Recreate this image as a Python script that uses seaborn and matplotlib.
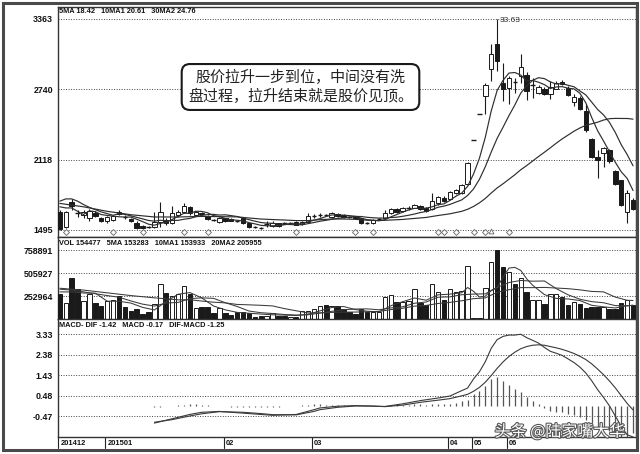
import matplotlib
matplotlib.use("Agg")
import matplotlib.pyplot as plt
import matplotlib.transforms as mtransforms
import matplotlib.patheffects as pe
from matplotlib.patches import Rectangle
import seaborn as sns

# ---------------- data ----------------
opens = [16.54, 15.22, 17.42, 16.45, 16.27, 16.00, 16.45, 16.00, 15.74, 15.83,
         16.54, 16.10, 15.92, 15.57, 15.30, 15.22, 15.22, 15.66, 15.83, 15.57,
         16.27, 16.54, 16.98, 16.27, 16.45, 16.19, 15.85, 15.66, 16.00, 15.92,
         15.75, 16.00, 15.57, 15.22, 15.13, 15.48, 15.30, 15.57, 15.57, 15.55,
         15.66, 15.48, 15.66, 16.19, 16.27, 16.30, 16.10, 16.36, 16.27, 16.10,
         16.10, 16.00, 15.57, 15.57, 15.90, 16.00, 16.45, 16.80, 16.63, 16.90,
         16.90, 17.07, 16.89, 16.80, 17.33, 17.77, 17.68, 18.21, 18.21, 19.01,
         22.95, 25.25, 26.85, 29.22, 31.43, 27.99, 27.55, 28.08, 28.61, 28.70,
         27.73, 27.11, 27.46, 27.02, 27.46, 28.08, 27.55, 26.32, 26.67, 25.52,
         22.97, 21.38, 21.74, 22.00, 20.15, 19.36, 16.54, 17.59]
highs = [16.71, 16.60, 17.68, 16.71, 16.71, 16.80, 16.60, 16.10, 16.20, 16.30,
         16.71, 16.30, 16.00, 15.70, 15.40, 15.30, 16.54, 17.42, 16.00, 17.07,
         16.70, 17.33, 17.10, 16.60, 16.50, 16.30, 15.90, 16.10, 16.05, 16.00,
         15.85, 16.05, 15.60, 15.30, 15.20, 15.75, 15.70, 15.60, 15.65, 15.65,
         15.70, 15.75, 16.45, 16.36, 16.45, 16.40, 16.50, 16.45, 16.35, 16.20,
         16.15, 16.05, 15.65, 15.90, 16.00, 16.71, 16.90, 16.90, 16.95, 17.10,
         17.25, 17.15, 16.95, 18.21, 18.00, 17.95, 18.40, 18.60, 19.00, 20.95,
         22.95, 25.25, 28.00, 31.43, 33.63, 29.75, 28.60, 28.43, 30.55, 28.90,
         28.43, 27.80, 27.60, 28.17, 28.10, 28.20, 27.70, 27.02, 26.80, 26.14,
         23.10, 22.00, 22.27, 22.10, 20.30, 19.40, 18.48, 17.80]
lows = [14.95, 15.10, 16.71, 16.10, 16.00, 15.75, 16.10, 15.65, 15.60, 15.70,
        16.27, 15.90, 15.65, 15.05, 15.05, 15.10, 15.13, 15.22, 15.40, 15.48,
        16.10, 16.45, 16.30, 16.20, 16.30, 15.85, 15.75, 15.60, 15.65, 15.70,
        15.65, 15.50, 15.15, 15.15, 15.05, 15.22, 15.20, 15.25, 15.45, 15.45,
        15.35, 15.40, 15.57, 16.00, 16.10, 16.15, 16.00, 16.10, 16.05, 16.00,
        15.95, 15.50, 15.45, 15.50, 15.85, 15.92, 16.40, 16.45, 16.55, 16.70,
        16.85, 16.75, 16.55, 16.71, 17.20, 17.40, 17.60, 18.10, 18.10, 18.90,
        22.95, 25.25, 25.25, 28.17, 29.05, 26.41, 26.14, 27.11, 27.99, 26.50,
        26.67, 27.00, 26.90, 26.58, 27.40, 27.80, 26.80, 25.96, 25.60, 23.59,
        21.30, 19.53, 20.50, 20.90, 18.90, 17.07, 15.57, 16.70]
closes = [15.04, 16.54, 17.07, 16.43, 16.54, 16.63, 16.19, 15.74, 16.10, 16.19,
          16.36, 16.08, 15.74, 15.13, 15.13, 15.20, 15.66, 16.54, 15.57, 16.45,
          16.54, 17.07, 16.45, 16.54, 16.36, 15.92, 15.83, 16.00, 15.74, 15.74,
          15.72, 15.57, 15.22, 15.20, 15.11, 15.50, 15.57, 15.30, 15.55, 15.57,
          15.40, 15.66, 16.19, 16.21, 16.29, 16.28, 16.45, 16.19, 16.10, 16.08,
          16.00, 15.57, 15.55, 15.83, 15.92, 16.45, 16.80, 16.54, 16.89, 16.92,
          17.16, 16.80, 16.63, 17.51, 17.86, 17.51, 18.30, 18.48, 18.92, 20.86,
          22.95, 25.25, 27.82, 30.55, 29.93, 27.46, 28.43, 28.06, 29.40, 27.29,
          27.75, 27.64, 27.02, 27.64, 27.99, 27.90, 26.93, 26.76, 25.70, 23.76,
          21.38, 21.12, 22.18, 21.03, 19.00, 17.16, 18.21, 16.80]

ma5 = [17.0, 16.9, 16.9, 16.6, 16.32, 16.64, 16.57, 16.31, 16.24, 16.17,
       16.12, 16.09, 16.09, 15.90, 15.69, 15.46, 15.37, 15.53, 15.62, 15.88,
       16.15, 16.43, 16.42, 16.61, 16.59, 16.47, 16.22, 16.13, 15.97, 15.85,
       15.81, 15.75, 15.60, 15.49, 15.36, 15.32, 15.32, 15.34, 15.41, 15.50,
       15.48, 15.50, 15.67, 15.81, 15.95, 16.13, 16.28, 16.28, 16.26, 16.22,
       16.16, 15.99, 15.86, 15.81, 15.77, 15.86, 16.11, 16.31, 16.52, 16.72,
       16.86, 16.86, 16.88, 17.00, 17.19, 17.26, 17.56, 17.93, 18.21, 18.81,
       19.90, 21.29, 23.16, 25.49, 27.30, 28.20, 28.84, 28.89, 28.66, 28.13,
       28.19, 28.03, 27.82, 27.47, 27.61, 27.64, 27.50, 27.44, 27.06, 26.21,
       24.91, 23.74, 22.83, 21.89, 20.94, 20.10, 19.52, 18.44]
ma10 = [17.5, 17.7, 17.7, 17.5, 17.2, 16.95, 16.75, 16.55, 16.4, 16.25,
        16.38, 16.33, 16.20, 16.07, 15.93, 15.79, 15.73, 15.81, 15.76, 15.79,
        15.80, 15.90, 15.97, 16.12, 16.24, 16.31, 16.33, 16.27, 16.29, 16.22,
        16.14, 15.99, 15.86, 15.73, 15.61, 15.56, 15.54, 15.47, 15.45, 15.43,
        15.40, 15.41, 15.51, 15.61, 15.72, 15.80, 15.89, 15.98, 16.03, 16.09,
        16.15, 16.14, 16.07, 16.03, 16.00, 16.01, 16.05, 16.08, 16.16, 16.25,
        16.36, 16.49, 16.59, 16.76, 16.96, 17.06, 17.21, 17.41, 17.61, 18.00,
        18.58, 19.43, 20.55, 21.85, 23.06, 24.05, 25.07, 26.02, 27.07, 27.71,
        28.19, 28.43, 28.35, 28.06, 27.87, 27.91, 27.76, 27.63, 27.26, 26.91,
        26.27, 25.62, 25.14, 24.48, 23.58, 22.50, 21.63, 20.63]
ma30_idx = [0, 4, 8, 12, 16, 20, 24, 28, 30, 32, 34, 36, 38, 40, 42, 44, 46, 48,
            50, 52, 54, 56, 58, 60, 62, 64, 66, 68, 69, 70, 71, 72, 73, 74, 75,
            76, 77, 78, 79, 80, 81, 82, 83, 84, 85, 86, 87, 88, 89, 90, 91, 92,
            93, 94, 95, 96, 97]
ma30 = [17.3, 17.0, 16.6, 16.3, 16.1, 16.1, 16.15, 16.12, 16.11, 16.01, 15.92,
        15.87, 15.83, 15.78, 15.78, 15.86, 15.92, 15.92, 15.89, 15.81, 15.78,
        15.83, 15.88, 15.97, 16.06, 16.23, 16.38, 16.60, 16.78, 17.03, 17.35,
        17.74, 18.22, 18.67, 19.04, 19.44, 19.84, 20.28, 20.65, 21.05, 21.45,
        21.83, 22.22, 22.63, 23.01, 23.35, 23.69, 23.98, 24.21, 24.35, 24.49,
        24.68, 24.80, 24.83, 24.82, 24.82, 24.76]

volume = [278600, 178300, 450200, 327600, 205000, 271900, 178300, 141500, 197200, 216200,
          253000, 130400, 93600, 115900, 60200, 74700, 167200, 383400, 289700, 253000,
          278600, 364400, 278600, 122600, 130400, 130400, 66900, 122600, 66900, 49000,
          74700, 74700, 66900, 30100, 41200, 41200, 66900, 41200, 41200, 30100,
          30100, 85800, 85800, 115900, 141500, 160500, 141500, 141500, 115900, 78000,
          55700, 115900, 78000, 78000, 78000, 241800, 264100, 189400, 189400, 197200,
          327600, 178300, 152700, 383400, 297500, 216200, 327600, 300900, 308700, 587000,
          9000, 14000, 345500, 624000, 754500, 568300, 512600, 383400, 456900, 297500,
          216200, 216200, 167200, 271900, 271900, 241800, 160500, 186100, 167200, 122600,
          130400, 130400, 130400, 115000, 115000, 175000, 207000, 154477]

vma5_idx = [0, 2, 4, 6, 8, 10, 12, 14, 16, 18, 20, 22, 24, 26, 28, 30, 32, 34, 36,
            38, 40, 42, 44, 46, 48, 50, 52, 54, 56, 58, 60, 62, 64, 66, 68, 69, 70,
            71, 72, 73, 74, 75, 76, 77, 78, 79, 80, 82, 84, 86, 88, 90, 92, 94, 96, 97]
vma5 = [300000, 300000, 287900, 286600, 198800, 197200, 178100, 130600, 102300,
        195000, 274400, 292900, 234900, 145800, 103400, 76000, 66400, 57500, 49300,
        46300, 41900, 54600, 91800, 129000, 140200, 106500, 88700, 81100, 148000,
        192500, 233500, 209000, 267900, 275500, 290200, 348100, 306600, 243900,
        252800, 315900, 349400, 461300, 561000, 568600, 535100, 443700, 373300,
        270800, 228700, 222700, 205500, 153400, 136200, 124200, 148500, 153283]
vma10_idx = [0, 2, 4, 6, 8, 10, 12, 14, 16, 18, 20, 22, 24, 26, 28, 30, 32, 34, 36,
             38, 40, 42, 44, 46, 48, 50, 52, 54, 56, 58, 60, 62, 64, 66, 68, 70, 72,
             74, 76, 78, 80, 82, 84, 86, 88, 90, 92, 94, 96, 97]
vma10 = [330000, 320000, 300000, 280000, 260000, 241900, 201500, 165800, 145000,
         178400, 184700, 226600, 234300, 229800, 181400, 140700, 90500, 72300, 63400,
         52700, 46400, 49400, 68000, 87400, 104900, 112200, 114400, 104300, 124700,
         136800, 175900, 189700, 242100, 245900, 269000, 276100, 279000, 348700,
         402500, 425500, 417300, 419700, 336200, 268400, 219700, 193600, 181300,
         149900, 147900, 153933]
vma20_idx = [0, 4, 8, 12, 16, 20, 22, 24, 26, 28, 30, 32, 34, 36, 38, 40, 42, 44, 46,
             48, 50, 52, 54, 56, 58, 60, 62, 64, 66, 68, 70, 72, 74, 76, 78, 80, 82,
             84, 86, 88, 90, 92, 94, 96, 97]
vma20 = [340000, 320000, 290000, 260000, 235000, 213300, 214000, 200000, 187400,
         179900, 162700, 158500, 153300, 146600, 117100, 93500, 69900, 70200, 75400,
         78800, 79300, 81900, 86100, 106000, 120800, 144100, 152000, 173200, 185300,
         202900, 226000, 234300, 295400, 324200, 347300, 346700, 349300, 342500,
         335400, 322600, 305400, 300500, 243100, 208100, 205955]

macd_hist = [-0.04, -0.02, 0.0, 0.03, 0.05, 0.07, 0.08, 0.08, 0.07, 0.05,
             0.03, 0.01, -0.01, -0.02, -0.03, -0.04, -0.05, -0.05, -0.05, -0.04,
             -0.03, -0.02, -0.01, 0.01, 0.03, 0.05, 0.07, 0.08, 0.08, 0.07,
             0.06, 0.05, 0.04, 0.03, 0.02, 0.01, -0.01, -0.01, 0.0, 0.02,
             0.04, 0.05, 0.06, 0.07, 0.08, 0.08, 0.07, 0.09, 0.10, 0.10,
             0.12, 0.16, 0.24, 0.29, 0.57, 0.72, 0.95, 1.26, 1.33, 1.18,
             0.99, 0.79, 0.67, 0.41, 0.23, 0.08, -0.10, -0.22, -0.25, -0.28,
             -0.35, -0.42, -0.50, -0.62, -0.78, -0.95, -1.05, -1.15, -1.30, -1.42,
             -1.45, -1.25]
macd_hist_start = 16
line_idx = [16, 19, 22, 24, 27, 31, 34, 36, 40, 43, 44, 47, 50, 53, 55, 58, 61, 64,
            66, 68, 69, 70, 71, 72, 73, 74, 75, 76, 77, 78, 79, 80, 81, 82, 83, 84,
            85, 86, 87, 88, 89, 90, 91, 92, 93, 94, 95, 96, 97]
dif = [-0.78, -0.58, -0.38, -0.28, -0.24, -0.32, -0.38, -0.42, -0.38, -0.16, -0.08,
       0.0, 0.03, 0.0, -0.01, 0.11, 0.26, 0.38, 0.47, 0.72, 0.84, 1.26, 1.59, 2.06,
       2.68, 3.08, 3.23, 3.29, 3.29, 3.33, 3.17, 3.05, 2.92, 2.72, 2.54, 2.45, 2.35,
       2.19, 2.02, 1.81, 1.54, 1.18, 0.77, 0.41, 0.02, -0.45, -0.93, -1.32, -1.42]
dea = [-0.74, -0.62, -0.45, -0.35, -0.25, -0.28, -0.34, -0.39, -0.40, -0.24, -0.16,
       -0.05, 0.01, 0.01, -0.02, 0.05, 0.18, 0.28, 0.35, 0.48, 0.55, 0.69, 0.87, 1.11,
       1.42, 1.75, 2.05, 2.30, 2.50, 2.66, 2.76, 2.82, 2.84, 2.82, 2.76, 2.70, 2.63,
       2.54, 2.44, 2.31, 2.16, 1.96, 1.72, 1.46, 1.17, 0.85, 0.49, 0.13, -0.17]

price_ticks = [33.63, 27.40, 21.18, 14.95]
price_tick_labels = ["3363", "2740", "2118", "1495"]
vol_ticks = [758891, 505927, 252964]
vol_tick_labels = ["758891", "505927", "252964"]
macd_ticks = [3.33, 2.38, 1.43, 0.48, -0.47]
macd_tick_labels = ["3.33", "2.38", "1.43", "0.48", "-0.47"]
date_idx = [0, 8, 28, 43, 66, 70, 76]
date_labels = ["201412", "201501", "02", "03", "04", "05", "06"]
signal_idx = [1, 9, 14, 21, 25, 40, 50, 53, 64, 65, 67, 70, 72, 76]
signal_a_idx = [73]
peak_label = "33.63"
header_price = "5MA 18.42   10MA1 20.61   30MA2 24.76"
header_vol = "VOL 154477   5MA 153283   10MA1 153933   20MA2 205955"
header_macd = "MACD- DIF -1.42   MACD -0.17   DIF-MACD -1.25"
note_text = "股价拉升一步到位，中间没有洗\n盘过程，拉升结束就是股价见顶。"
watermark = "头条 @陆家嘴大华"

# ---------------- figure ----------------
sns.set_theme(style="white")
plt.rcParams["font.family"] = ["Liberation Sans", "DejaVu Sans"]
plt.rcParams["axes.unicode_minus"] = False

W, H = 640, 454
fig = plt.figure(figsize=(6.4, 4.54), dpi=100)
fig.patch.set_facecolor("white")


def add_ax(x0, y0, x1, y1):
    return fig.add_axes([x0 / W, 1 - y1 / H, (x1 - x0) / W, (y1 - y0) / H])


ax_p = add_ax(57.5, 7, 636, 237.3)
ax_v = add_ax(57.5, 237.3, 636, 319.3)
ax_m = add_ax(57.5, 319.3, 636, 436.5)

n = len(closes)
xs = list(range(n))
INK = "#1a1a1a"
LINE = "#2e2e2e"
dotted = (0, (1.0, 1.6))

# candles
ax_p.vlines(xs, lows, highs, color=INK, lw=0.8, zorder=2)
for i in range(n):
    o, c = opens[i], closes[i]
    if abs(c - o) < 0.03:
        ax_p.hlines(c, i - 0.38, i + 0.38, color=INK, lw=1.0, zorder=3)
    else:
        up = c > o
        ax_p.bar(i, abs(c - o), bottom=min(o, c), width=0.74,
                 facecolor="white" if up else INK, edgecolor=INK, lw=0.7, zorder=3)

for arr_x, arr_y in ((xs, ma5), (xs, ma10), (ma30_idx, ma30)):
    sns.lineplot(x=arr_x, y=arr_y, ax=ax_p, color=LINE, lw=0.85, legend=False,
                 estimator=None, sort=False, zorder=4)

blend_p = mtransforms.blended_transform_factory(ax_p.transData, ax_p.transAxes)
ax_p.scatter(signal_idx, [0.024] * len(signal_idx), transform=blend_p, marker="D",
             s=9, facecolor="white", edgecolor="#666666", lw=0.6, zorder=5)
ax_p.scatter(signal_a_idx, [0.026] * len(signal_a_idx), transform=blend_p, marker="^",
             s=12, facecolor="white", edgecolor="#666666", lw=0.6, zorder=5)
peak_i = highs.index(max(highs))
ax_p.text(peak_i + 0.4, max(highs) - 0.12, peak_label, fontsize=6, color="#333333",
          va="center", ha="left")

ax_p.set_xlim(-0.4, 97.5)
ax_p.set_ylim(14.30, 34.69)
ax_p.set_yticks(price_ticks)
ax_p.set_yticklabels(price_tick_labels)

# volume
vol_colors = ["white" if closes[i] >= opens[i] else INK for i in range(n)]
ax_v.bar(xs, volume, width=0.76, color=vol_colors, edgecolor=INK, lw=0.7, zorder=3)
for arr_x, arr_y in ((vma5_idx, vma5), (vma10_idx, vma10), (vma20_idx, vma20)):
    sns.lineplot(x=arr_x, y=arr_y, ax=ax_v, color="#3a3a3a", lw=0.75, legend=False,
                 estimator=None, sort=False, zorder=4)
ax_v.set_xlim(-0.4, 97.5)
ax_v.set_ylim(0, 898000)
ax_v.set_yticks(vol_ticks)
ax_v.set_yticklabels(vol_tick_labels)

# macd
hist_x = list(range(macd_hist_start, macd_hist_start + len(macd_hist)))
ax_m.vlines(hist_x, 0, macd_hist, color="#555555", lw=0.9, zorder=3)
sns.lineplot(x=line_idx, y=dif, ax=ax_m, color="#3a3a3a", lw=0.8, legend=False,
             estimator=None, sort=False, zorder=4)
sns.lineplot(x=line_idx, y=dea, ax=ax_m, color="#3a3a3a", lw=0.8, legend=False,
             estimator=None, sort=False, zorder=4)
ax_m.set_xlim(-0.4, 97.5)
ax_m.set_ylim(-1.40, 4.02)
ax_m.set_yticks(macd_ticks)
ax_m.set_yticklabels(macd_tick_labels)

for ax in (ax_p, ax_v, ax_m):
    ax.set_xlabel("")
    ax.set_ylabel("")
    ax.set_xticks([])
    ax.yaxis.grid(True, linestyle=dotted, color="#444444", lw=0.7)
    ax.set_axisbelow(True)
    ax.tick_params(axis="y", length=2, width=0.8, pad=1.2, colors="#111111",
                   labelsize=6.4)
    for lab in ax.get_yticklabels():
        lab.set_fontweight("bold")
    for sp in ax.spines.values():
        sp.set_color("#333333")
        sp.set_linewidth(1.0)

# header texts
hdr = dict(fontsize=5.3, fontweight="bold", color="#111111", ha="left", va="center")
fig.text(59 / W, 1 - 11.5 / H, header_price, **hdr)
fig.text(59 / W, 1 - 243.5 / H, header_vol, **hdr)
fig.text(59 / W, 1 - 325.5 / H, header_macd, **hdr)

# date axis
blend_d = mtransforms.blended_transform_factory(ax_m.transData, fig.transFigure)
px = mtransforms.ScaledTranslation(2 / 100, 0, fig.dpi_scale_trans)
for xi, lab in zip(date_idx, date_labels):
    xline = max(xi - 0.3, -0.25)
    ax_m.plot([xline, xline], [1 - 437 / H, 1 - 447.5 / H], transform=blend_d,
              color="#222222", lw=0.8, clip_on=False)
    ax_m.text(xline, 1 - 443.5 / H, lab, transform=blend_d + px, fontsize=5.4,
              fontweight="bold", color="#111111", ha="left", va="center")

# annotation box
fig.text(300.5 / W, 1 - 87 / H, note_text, fontsize=10.8, color="#222222",
         ha="center", va="center", linespacing=1.25,
         family=["Noto Sans CJK SC", "DejaVu Sans"],
         bbox=dict(boxstyle="round,pad=0.42,rounding_size=0.55", facecolor="white",
                   edgecolor="#1a1a1a", lw=1.5))

# watermark
fig.text(560 / W, 1 - 432 / H, watermark, fontsize=11.5, color="white",
         ha="center", va="center", family=["Noto Sans CJK SC", "DejaVu Sans"],
         path_effects=[pe.withStroke(linewidth=1.6, foreground="#5a5a5a")])

# outer frame
fig.patches.append(Rectangle((3 / W, 1 - 449.5 / H), 634 / W, 446.5 / H,
                             transform=fig.transFigure, fill=False, lw=2.2,
                             edgecolor="#4a4a4a"))

fig.savefig("out.png", dpi=100, facecolor="white")
